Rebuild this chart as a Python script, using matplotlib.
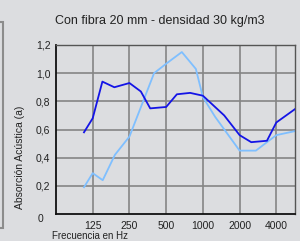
import matplotlib
matplotlib.use("Agg")
import matplotlib.pyplot as plt
from matplotlib.patches import Rectangle
from matplotlib.ticker import FixedLocator, NullLocator

title = "Con fibra 20 mm - densidad 30 kg/m3"
xlabel = "Frecuencia en Hz"
ylabel = "Absorción Acústica (a)"

xtick_vals = [125, 250, 500, 1000, 2000, 4000]
xtick_labels = ["125", "250", "500", "1000", "2000", "4000"]
ytick_vals = [0.2, 0.4, 0.6, 0.8, 1.0, 1.2]
ytick_labels = ["0,2", "0,4", "0,6", "0,8", "1,0", "1,2"]

dark_freq = [106, 125, 150, 188, 250, 310, 370, 500, 612, 786, 1000, 1495, 2000, 2490, 3350, 4000, 5800]
dark_vals = [0.58, 0.68, 0.94, 0.90, 0.93, 0.87, 0.75, 0.76, 0.85, 0.86, 0.84, 0.70, 0.56, 0.51, 0.52, 0.65, 0.75]

light_freq = [106, 125, 151, 190, 250, 398, 505, 672, 876, 1000, 1260, 2000, 2720, 3350, 4000, 5800]
light_vals = [0.19, 0.29, 0.24, 0.42, 0.55, 1.00, 1.07, 1.15, 1.03, 0.83, 0.69, 0.45, 0.45, 0.51, 0.56, 0.59]

fam = ["Liberation Sans Narrow", "Liberation Sans", "DejaVu Sans"]
plt.rcParams["font.family"] = fam

bg = "#dcdde0"
fig = plt.figure(figsize=(3.0, 2.41), dpi=100, facecolor=bg)
ax = fig.add_axes([56/300, 27/241, 239/300, 169/241], facecolor=bg)

# left frame edge of surrounding box
fig.patches.append(Rectangle((-10/300, 13/241), 12.5/300, 206/241, transform=fig.transFigure,
                             fill=False, edgecolor="#8c8c8c", linewidth=1.5))

ax.set_xscale("log", base=2)
ax.set_xlim(62.5, 5690)
ax.set_ylim(0, 1.2)

ax.xaxis.set_major_locator(FixedLocator(xtick_vals))
ax.xaxis.set_minor_locator(NullLocator())
ax.set_xticks(xtick_vals)
ax.set_xticklabels(xtick_labels)
ax.set_yticks(ytick_vals)
ax.set_yticklabels(ytick_labels)
ax.tick_params(axis="both", length=0, labelsize=7.5, colors="#222222", pad=4)
ax.tick_params(axis="x", pad=5)

ax.grid(True, color="#858585", linewidth=1.2)
ax.set_axisbelow(True)

ax.plot(dark_freq, dark_vals, color="#1414e6", linewidth=1.3, clip_on=True, zorder=3)
ax.plot(light_freq, light_vals, color="#7fbfff", linewidth=1.3, clip_on=True, zorder=2)

for s in ["left", "bottom"]:
    ax.spines[s].set_color("#111111")
    ax.spines[s].set_linewidth(1.3)
for s in ["top", "right"]:
    ax.spines[s].set_color("#555555")
    ax.spines[s].set_linewidth(1.0)

# "0" label sits lower, aligned with x tick labels
ax.text(-13/239, 0, "0", transform=ax.transAxes, ha="right", va="top",
        fontsize=7.5, color="#222222")

fig.text(159.5/300, 1 - 21/241, title, ha="center", va="center", fontsize=9, color="#222222")
fig.text(20/300, 1 - 157/241, ylabel, ha="center", va="center", rotation=90, fontsize=7.5, color="#222222")
fig.text(52/300, 1 - 231/241, xlabel, ha="left", va="top", fontsize=7, color="#222222")

fig.savefig("out.png", dpi=100, facecolor=bg)
